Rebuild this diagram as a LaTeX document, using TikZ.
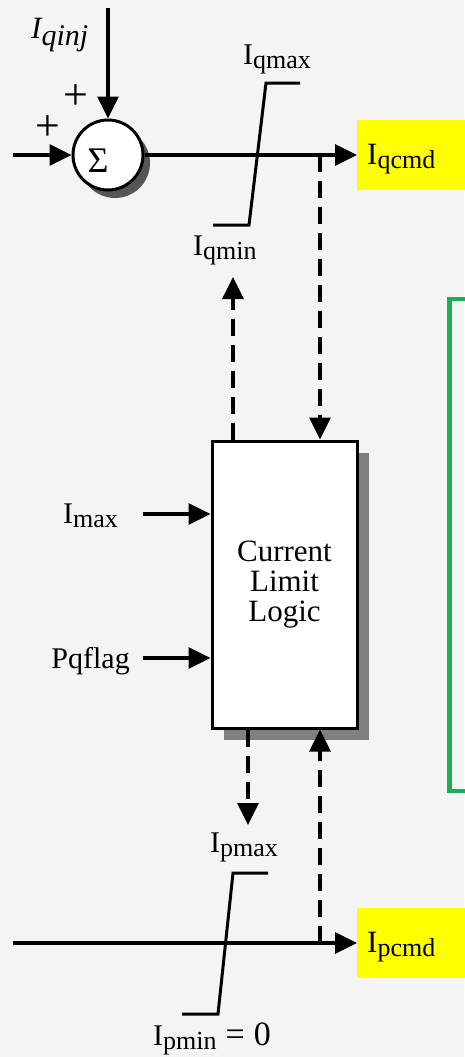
\documentclass[tikz,border=0pt]{standalone}
\usepackage{fontspec}
\setmainfont{Liberation Serif}
\usetikzlibrary{arrows.meta,positioning,shadows}
\definecolor{bgc}{HTML}{F4F4F4}
\definecolor{edgec}{HTML}{000000}
\definecolor{shadc}{HTML}{7F7F7F}
\definecolor{sumshad}{HTML}{555555}
\definecolor{cmdc}{HTML}{FFFF00}
\definecolor{grnc}{HTML}{1DAF55}
\newcommand{\Isub}[1]{I\raisebox{-4pt}{\fontsize{26}{28}\selectfont #1}}

\begin{document}
\begin{tikzpicture}[
  x=1pt, y=-1pt,
  >={Triangle[length=22pt,width=21pt]},
  flow/.style={->, draw=edgec, line width=3.2pt},
  dflow/.style={flow, dash pattern=on 17pt off 9pt},
  limiter/.style={draw=edgec, line width=3pt},
  sumnode/.style={circle, draw=edgec, line width=3pt, fill=white,
                  minimum size=70pt, inner sep=0pt, text height=34pt, text depth=0pt,
                  font=\fontsize{36}{38}\selectfont,
                  drop shadow={shadow xshift=7pt, shadow yshift=-8pt, fill=sumshad, opacity=1}},
  logic/.style={rectangle, draw=edgec, line width=3pt, fill=white,
                minimum width=145pt, minimum height=287pt, align=center,
                font=\fontsize{31}{30}\selectfont,
                drop shadow={shadow xshift=12pt, shadow yshift=-12pt, fill=shadc, opacity=1}},
  cmd/.style={rectangle, fill=cmdc, anchor=west, minimum height=70pt,
              text width=100pt, inner xsep=10pt, align=left,
              text height=18pt, text depth=0pt, font=\fontsize{31}{32}\selectfont},
  lbl/.style={font=\fontsize{30}{32}\selectfont, inner sep=0pt},
  pm/.style={font=\fontsize{44}{46}\selectfont, inner sep=0pt},
]

% ---- canvas ----
\fill[bgc] (0,0) rectangle (464,1057);
\useasboundingbox (0,0) rectangle (464,1057);

% ---- q-axis: summing junction and limiter ----
\coordinate (qin) at (13,155);
\coordinate (inj) at (108,8);
\node[sumnode] (sum) at (108,155) {Σ\kern20pt};
\node[pm] (plusa) at (76,97) {+};
\node[pm] (plusb) at (48,128) {+};
\node[lbl, anchor=base west] (iqinj) at (31,38)
  {\itshape\fontsize{31}{32}\selectfont I\raisebox{-7pt}{\fontsize{30}{31}\selectfont qinj}};
\node[cmd] (iqcmd) at (357,155) {\Isub{qcmd}};

\draw[flow] (qin) -- (sum);
\draw[flow] (inj) -- (sum);
\draw[flow] (sum) -- (iqcmd);

\draw[limiter] (213,225) -- (249,225) -- (266,83) -- (300,83);
\node[lbl, anchor=base west] (iqmax) at (243,65) {\Isub{qmax}};
\node[lbl, anchor=base west] (iqmin) at (193,255) {\Isub{qmin}};

% ---- current limit logic ----
\node[logic] (cll) at (284.5,584.5) {Current\\Limit\\Logic};

\coordinate (qtap) at (320,155);
\coordinate (qlim) at (233,277);
\draw[dflow] (qtap) -- (cll.north -| qtap);
\draw[dflow] (cll.north -| qlim) -- (qlim);

\node[lbl, anchor=base east] (imax) at (118,523) {\Isub{max}};
\node[lbl, anchor=base east] (pqflag) at (130,668) {Pqflag};
\coordinate (imaxin) at (143,514);
\coordinate (pqin) at (143,658);
\draw[flow] (imaxin) -- (imaxin -| cll.west);
\draw[flow] (pqin) -- (pqin -| cll.west);

% ---- p-axis: limiter ----
\coordinate (pin) at (13,943);
\node[cmd] (ipcmd) at (357,943) {\Isub{pcmd}};
\draw[flow] (pin) -- (ipcmd);

\draw[limiter] (182,1014) -- (218,1014) -- (233,873) -- (268,873);
\node[lbl, anchor=base west] (ipmin) at (153,1045)
  {\Isub{pmin}{\fontsize{34}{35}\selectfont\kern9pt=\kern9pt0}};
\node[lbl, anchor=base west] (ipmax) at (210,852) {\Isub{pmax}};

\coordinate (ptap) at (320,943);
\coordinate (plim) at (248,825);
\draw[dflow] (ptap) -- (cll.south -| ptap);
\draw[dflow] (cll.south -| plim) -- (plim);

% ---- green frame (cut at right edge) ----
\draw[grnc, line width=4.5pt] (449.5,299) rectangle (490,791);
\end{tikzpicture}
\end{document}
